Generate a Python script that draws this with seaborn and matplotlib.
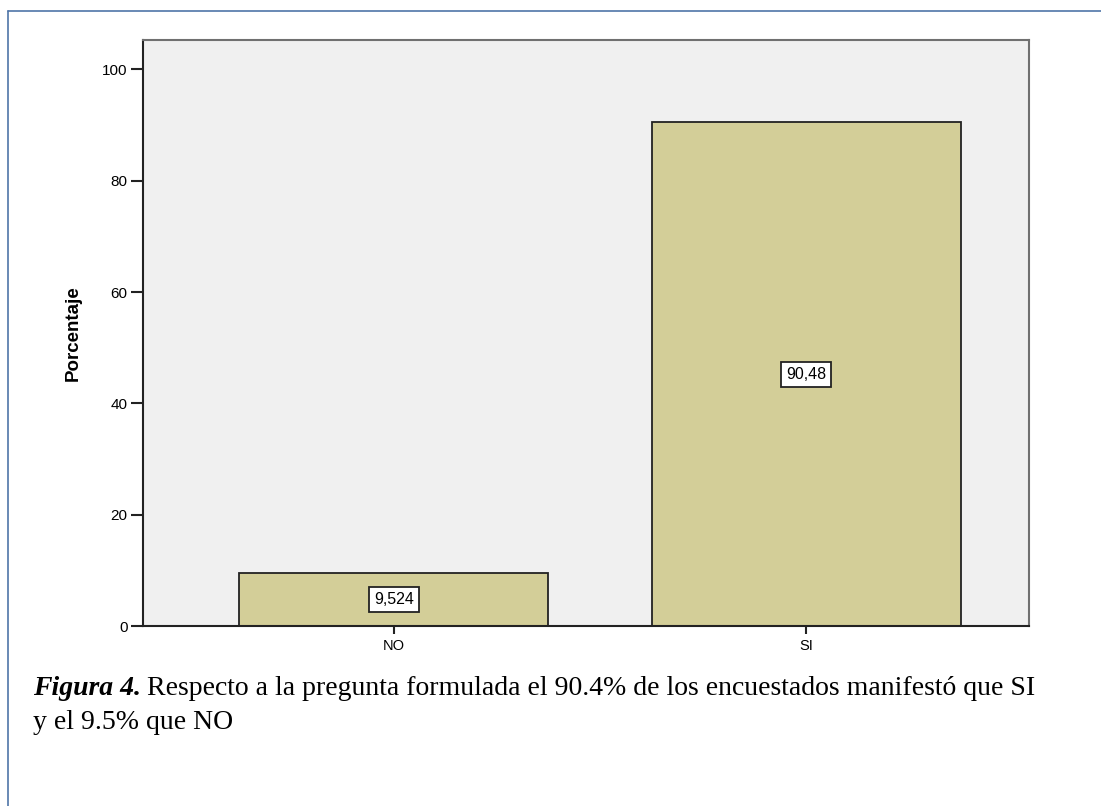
import matplotlib
matplotlib.use("Agg")
import matplotlib.pyplot as plt
import matplotlib.lines as mlines
import pandas as pd
import seaborn as sns

# Data
categories = ["NO", "SI"]
percentages = [9.524, 90.48]
value_labels = ["9,524", "90,48"]
y_ticks = [0, 20, 40, 60, 80, 100]

caption_bold = "Figura 4."
caption_line1 = "Respecto a la pregunta formulada el 90.4% de los encuestados manifestó que SI"
caption_line2 = "y el 9.5% que NO"

BAR_COLOR = "#d3ce98"
BG_COLOR = "#f0f0f0"

sns.set_theme(style="white")
plt.rcParams["font.family"] = ["Liberation Sans", "DejaVu Sans"]
plt.rcParams["text.color"] = "black"
plt.rcParams["axes.labelcolor"] = "black"
plt.rcParams["xtick.color"] = "black"
plt.rcParams["ytick.color"] = "black"

df = pd.DataFrame({"categoria": categories, "porcentaje": percentages})

fig = plt.figure(figsize=(11.01, 8.06), dpi=100)
ax = fig.add_axes([143 / 1101, 1 - 626 / 806, (1029 - 143) / 1101, (626 - 40) / 806])
ax.set_facecolor(BG_COLOR)

sns.barplot(data=df, x="categoria", y="porcentaje", color=BAR_COLOR,
            saturation=1, width=0.75, edgecolor="#222222", linewidth=1.3, ax=ax)

ax.set_xlim(-0.609, 1.541)
ax.set_ylim(0, 105.3)
ax.set_yticks(y_ticks)
ax.set_yticklabels([str(t) for t in y_ticks])
ax.set_xlabel("")
ax.set_ylabel("Porcentaje", fontsize=13.5, fontweight="bold")
ax.yaxis.set_label_coords((73 - 143) / 886, 0.5)
ax.yaxis.label.set_va("center")

ax.tick_params(axis="y", direction="out", length=9, width=1.5, color="#222222",
               labelsize=11, pad=2, left=True)
ax.tick_params(axis="x", direction="out", length=6, width=1.5, color="#222222",
               labelsize=10.5, pad=3, bottom=True)

for side in ["left", "bottom"]:
    ax.spines[side].set_color("#222222")
    ax.spines[side].set_linewidth(1.5)
for side in ["top", "right"]:
    ax.spines[side].set_color("#707070")
    ax.spines[side].set_linewidth(1.5)

# Value labels in white boxes at the middle of each bar
for i, (val, lab) in enumerate(zip(percentages, value_labels)):
    ax.text(i, val / 2, lab, ha="center", va="center", fontsize=11.5, color="black",
            bbox=dict(boxstyle="square,pad=0.3", fc="white", ec="#222222", lw=1.3))

# Outer frame (left and top edges only are visible)
fig.add_artist(mlines.Line2D([8 / 1101, 8 / 1101], [0, 1 - 11 / 806],
                             transform=fig.transFigure, color="#4f75a8", lw=1.2))
fig.add_artist(mlines.Line2D([8 / 1101, 1], [1 - 11 / 806, 1 - 11 / 806],
                             transform=fig.transFigure, color="#4f75a8", lw=1.2))

# Caption
serif = ["Liberation Serif", "DejaVu Serif"]
t1 = fig.text(33 / 1101, 1 - 695 / 806, caption_bold, family=serif, fontsize=20,
              fontweight="bold", fontstyle="italic", va="baseline", color="black")
fig.canvas.draw()
ax.annotate(caption_line1, xy=(1, 0), xycoords=t1, xytext=(4, 0),
            textcoords="offset points", family=serif, fontsize=20, va="bottom",
            color="black", annotation_clip=False)
fig.text(33 / 1101, 1 - 729 / 806, caption_line2, family=serif, fontsize=20,
         va="baseline", color="black")

fig.savefig("out.png", dpi=100)
